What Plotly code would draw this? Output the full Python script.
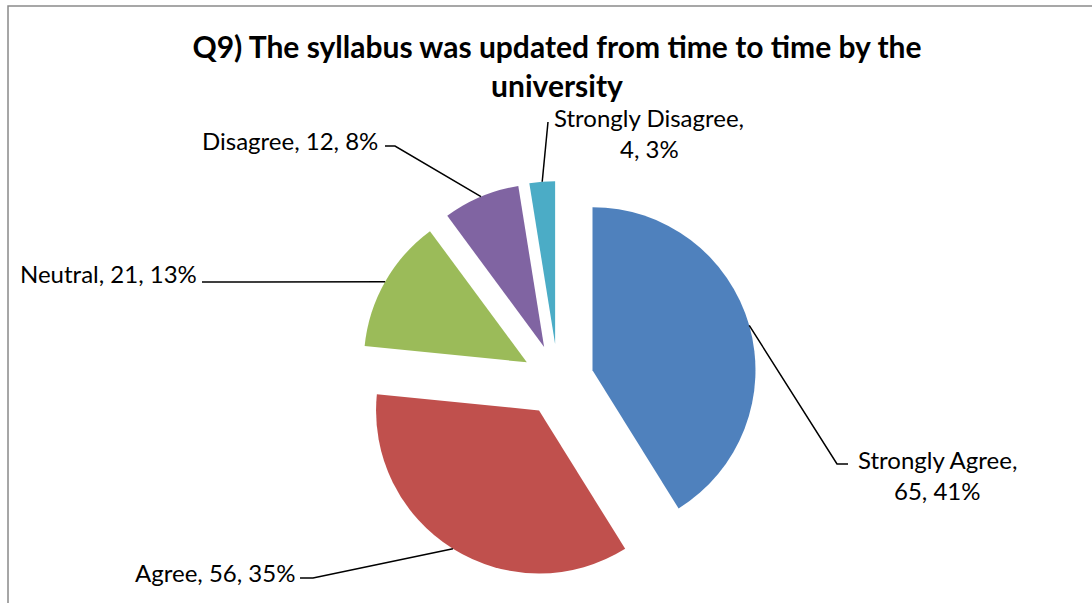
import numpy as np
import plotly.graph_objects as go

# ---- data ----
categories = ["Strongly Agree", "Agree", "Neutral", "Disagree", "Strongly Disagree"]
counts = [65, 56, 21, 12, 4]
percent_labels = ["41%", "35%", "13%", "8%", "3%"]
colors = ["#4F81BD", "#C0504D", "#9BBB59", "#8064A2", "#4BACC6"]
title_text = "Q9) The syllabus was updated from time to time by the<br>university"

# ---- layout constants (pixels) ----
W, H = 1092, 603
CX, CY = 558, 380      # pie centre
R = 163                # pie radius
PULL = 0.22            # explosion as fraction of radius
FONT = "Lato"
LABEL_SIZE = 24
TITLE_SIZE = 30

def px(x):
    return x / W

def py(y):
    return 1 - y / H

box = 2 * R * (1 + PULL)
domain_x = [px(CX - box / 2), px(CX + box / 2)]
domain_y = [py(CY + box / 2), py(CY - box / 2)]

fig = go.Figure()
fig.add_trace(go.Pie(
    labels=categories,
    values=counts,
    sort=False,
    direction="clockwise",
    rotation=0,
    pull=[PULL] * len(counts),
    marker=dict(colors=colors, line=dict(width=0)),
    textinfo="none",
    hoverinfo="label+value+percent",
    showlegend=False,
    domain=dict(x=domain_x, y=domain_y),
))

# anchor points on each slice's outer arc, computed from the data
vals = np.array(counts, dtype=float)
frac = vals / vals.sum()
mid = (np.cumsum(frac) - frac / 2) * 2 * np.pi
ax_px = CX + R * (1 + PULL) * np.sin(mid)
ay_px = CY - R * (1 + PULL) * np.cos(mid)

# label placement: text lines (text, centre x, centre y) and knee points of leader line
label_layout = [
    dict(lines=[(f"{categories[0]},", 937, 459), (f"{counts[0]}, {percent_labels[0]}", 937, 490)],
         knees=[(837, 464), (848, 464)]),
    dict(lines=[(f"{categories[1]}, {counts[1]}, {percent_labels[1]}", 215, 572)],
         knees=[(313, 578), (300, 578)]),
    dict(lines=[(f"{categories[2]}, {counts[2]}, {percent_labels[2]}", 108, 273)],
         knees=[(202, 282)]),
    dict(lines=[(f"{categories[3]}, {counts[3]}, {percent_labels[3]}", 290, 140)],
         knees=[(395, 146), (385, 146)]),
    dict(lines=[(f"{categories[4]},", 649, 117), (f"{counts[4]}, {percent_labels[4]}", 649, 148)],
         knees=[(548, 122)]),
]

shapes = []
annotations = []
for i, lay in enumerate(label_layout):
    pts = [(ax_px[i], ay_px[i])] + lay["knees"]
    path = "M " + " L ".join(f"{px(x):.5f},{py(y):.5f}" for x, y in pts)
    shapes.append(dict(type="path", path=path, xref="paper", yref="paper",
                       line=dict(color="black", width=1.5)))
    for text, x, y in lay["lines"]:
        annotations.append(dict(text=text, x=px(x), y=py(y), xref="paper", yref="paper",
                                xanchor="center", yanchor="middle", showarrow=False,
                                font=dict(family=FONT, size=LABEL_SIZE, color="black")))

# chart frame
shapes.append(dict(type="path", xref="paper", yref="paper",
                   path=f"M {px(8):.5f},0 L {px(8):.5f},{py(6):.5f} L 1,{py(6):.5f}",
                   line=dict(color="#8A8A8A", width=1.5)))

fig.update_layout(
    width=W, height=H,
    margin=dict(l=0, r=0, t=0, b=0),
    paper_bgcolor="white",
    plot_bgcolor="white",
    title=dict(text=f"<b>{title_text}</b>", x=px(557), xanchor="center",
               y=py(58), yanchor="middle", yref="container",
               font=dict(family=FONT, size=TITLE_SIZE, color="black")),
    shapes=shapes,
    annotations=annotations,
)

fig.write_html("out.html", config={"displayModeBar": False},
               post_script="document.body.style.margin='0';")
